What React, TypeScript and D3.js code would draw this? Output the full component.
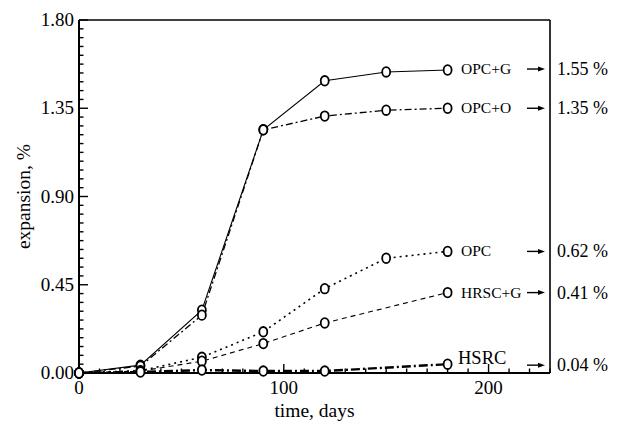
import React from "react";
import { scaleLinear, line, range } from "d3";

const days = [0, 30, 60, 90, 120, 150, 180];
const daysShort = [0, 30, 60, 90, 120, 180];

const opcG = [0, 0.04, 0.32, 1.24, 1.49, 1.535, 1.545];
const opcO = [0, 0.035, 0.295, 1.24, 1.31, 1.34, 1.35];
const opc = [0, 0.012, 0.08, 0.21, 0.43, 0.585, 0.62];
const hrscG = [0, 0.01, 0.06, 0.15, 0.255, 0.41];
const hsrc = [0, 0.005, 0.015, 0.01, 0.01, 0.045];

const seriesNames = ["OPC+G", "OPC+O", "OPC", "HRSC+G", "HSRC"];
const endValues = [1.55, 1.35, 0.62, 0.41, 0.04];
const yTicks = [0, 0.45, 0.9, 1.35, 1.8];
const xTicks = [0, 100, 200];

const W = 619;
const H = 425;
const margin = { top: 20, right: 69, bottom: 52, left: 79 };

const font = "Liberation Serif, Times New Roman, Times, serif";

const App = () => {
  const x = scaleLinear().domain([0, 230]).range([margin.left, W - margin.right]);
  const y = scaleLinear().domain([0, 1.8]).range([H - margin.bottom, margin.top]);
  const x0 = x(0);
  const x1 = x(230);
  const y0 = y(0);
  const y1 = y(1.8);

  const series = [
    { name: seriesNames[0], xs: days, ys: opcG, dash: "none", width: 1.1 },
    { name: seriesNames[1], xs: days, ys: opcO, dash: "7,3,2,3", width: 1.3 },
    { name: seriesNames[2], xs: days, ys: opc, dash: "2,4", width: 1.6 },
    { name: seriesNames[3], xs: daysShort, ys: hrscG, dash: "5,4", width: 1.1 },
    { name: seriesNames[4], xs: daysShort, ys: hsrc, dash: "9,3,2,3", width: 2.4 },
  ];

  const path = line<[number, number]>()
    .x((d) => x(d[0]))
    .y((d) => y(d[1]));

  const minorY = range(0, 41).map((i) => i * 0.045);
  const minorX = range(0, 24).map((i) => i * 10);

  return (
    <svg width={W} height={H} style={{ position: "absolute", left: 0, top: 0 }}>
      <rect width={W} height={H} fill="#fff" />
      {/* frame */}
      <line x1={x0} x2={x1} y1={y1} y2={y1} stroke="#000" strokeWidth={1.6} />
      <line x1={x1} x2={x1} y1={y1} y2={y0} stroke="#000" strokeWidth={1.6} />
      <line x1={x0} x2={x0} y1={y1} y2={y0} stroke="#000" strokeWidth={2} />
      <line x1={x0} x2={x1} y1={y0} y2={y0} stroke="#000" strokeWidth={2} />

      {/* y ticks */}
      {minorY.map((v, i) => (
        <line
          key={"my" + i}
          x1={x0}
          x2={x0 + (i % 10 === 0 ? 9 : 4.5)}
          y1={y(v)}
          y2={y(v)}
          stroke="#000"
          strokeWidth={1.4}
        />
      ))}
      {yTicks.map((v) => (
        <text
          key={"ty" + v}
          x={x0 - 5}
          y={y(v) + 6}
          textAnchor="end"
          fontFamily={font}
          fontSize={19}
        >
          {v.toFixed(2)}
        </text>
      ))}

      {/* x ticks */}
      {minorX.map((v, i) => (
        <line
          key={"mx" + i}
          x1={x(v)}
          x2={x(v)}
          y1={y0}
          y2={y0 - (i % 10 === 0 ? 9 : 4.5)}
          stroke="#000"
          strokeWidth={1.4}
        />
      ))}
      {xTicks.map((v) => (
        <text
          key={"tx" + v}
          x={x(v)}
          y={y0 + 21}
          textAnchor="middle"
          fontFamily={font}
          fontSize={19}
        >
          {v}
        </text>
      ))}

      {/* axis titles */}
      <text
        x={(x0 + x1) / 2}
        y={H - 8}
        textAnchor="middle"
        fontFamily={font}
        fontSize={19.5}
      >
        time, days
      </text>
      <text
        transform={`translate(30,${(y0 + y1) / 2}) rotate(-90)`}
        textAnchor="middle"
        fontFamily={font}
        fontSize={19.5}
      >
        expansion, %
      </text>

      {/* series */}
      {series.map((s) => (
        <g key={s.name}>
          <path
            d={path(s.xs.map((d, i) => [d, s.ys[i]]) as [number, number][]) || ""}
            fill="none"
            stroke="#000"
            strokeWidth={s.width}
            strokeDasharray={s.dash}
          />
          {s.xs.map((d, i) => (
            <ellipse
              key={i}
              cx={x(d)}
              cy={y(s.ys[i])}
              rx={4}
              ry={4.8}
              fill="#fff"
              stroke="#000"
              strokeWidth={1.8}
            />
          ))}
        </g>
      ))}

      {/* labels, arrows, end values */}
      {series.map((s, i) => {
        const yy = y(endValues[i]);
        const isBig = s.name === "HSRC";
        return (
          <g key={"lab" + s.name}>
            <text
              x={isBig ? 458 : 461}
              y={yy + (isBig ? -1 : 5)}
              fontFamily={font}
              fontSize={isBig ? 18.5 : 15.5}
            >
              {s.name}
            </text>
            <line x1={527} x2={541} y1={yy} y2={yy} stroke="#000" strokeWidth={1.4} />
            <path
              d={`M${545},${yy} L${538},${yy - 2.5} L${538},${yy + 2.5} Z`}
              fill="#000"
            />
            <text x={x1 + 7} y={yy + 6} fontFamily={font} fontSize={18}>
              {endValues[i].toFixed(2)} %
            </text>
          </g>
        );
      })}
    </svg>
  );
};

export default App;
